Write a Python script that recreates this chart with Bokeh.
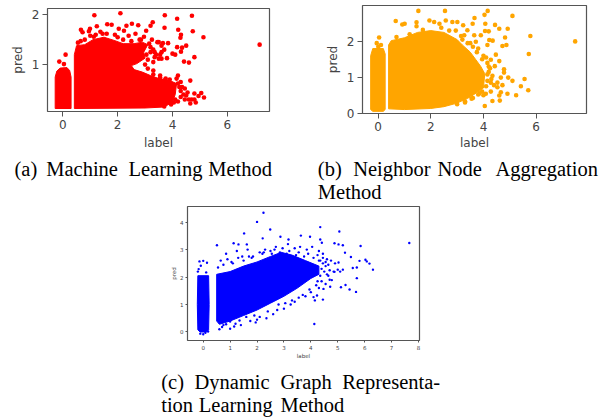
from bokeh.plotting import figure
from bokeh.models import Label, FixedTicker, Range1d, Spacer
from bokeh.layouts import column, row
from bokeh.embed import file_html
from bokeh.resources import INLINE

# ---- Panel (a): sparse points
a_x = [1.15,2.1,3.72,4.17,4.71,3.71,4.21,4.74,5.13,7.18,4.31,4.29,3.84,4.5,4.35,4.17,4.31,4.8,4.42,4.6,0.1,-0.13,0.04,
       0.66,0.72,0.95,0.99,1.24,1.62,1.78,2.52,2.32,2.75,3.28,3.2,3.04,2.04,2.23,1.37,2.96,1.13,1.0,1.45,1.9,2.4,2.65,2.85,
       3.6,3.7,3.55,3.8,3.4,3.3,4.0,4.1,3.3,3.1,3.0,3.45,3.65,3.25,3.15,
       4.2,4.65,4.3,4.45,4.8,5.05,5.15,4.95,4.8,4.65,4.85,4.7,4.5,4.6,4.4,4.3,4.15,4.25,3.9,3.75,3.55,3.3,
       0.55,0.65,0.8,1.2,1.6,2.0,2.2,2.5,2.8,3.2,3.35,3.5,3.6,3.05,3.2,3.35,3.5,3.6,
       4.2,4.35,4.3,4.2,3.95,3.7,4.05,4.1,4.45,4.55,3.1,3.3,3.55,3.7,3.85,3.95]
a_y = [1.99,2.03,1.99,1.92,1.98,1.74,1.70,1.67,1.55,1.40,1.6,1.54,1.43,1.38,1.34,1.35,1.26,1.15,1.06,1.04,1.2,1.06,1.01,
       1.7,1.65,1.67,1.72,1.77,1.81,1.8,1.82,1.78,1.79,1.85,1.78,1.68,1.72,1.68,1.66,1.56,1.56,1.58,1.62,1.6,1.58,1.62,1.5,
       1.38,1.3,1.2,1.13,1.2,1.3,1.22,1.2,1.05,1.1,1.0,1.45,1.43,1.5,1.42,
       0.78,0.68,0.65,0.52,0.42,0.43,0.34,0.37,0.3,0.22,0.24,0.3,0.38,0.3,0.4,0.47,0.72,0.55,0.7,0.72,0.74,0.8,
       1.44,1.47,1.5,1.6,1.62,1.55,1.5,1.47,1.5,1.35,1.25,1.12,1.25,1.2,1.25,1.15,1.45,1.12,
       0.62,0.55,0.35,0.26,0.2,0.16,0.24,0.3,0.3,0.44,0.92,0.88,0.78,0.68,0.66,0.6]
a_left_x = [-0.28,0.3,0.3,0.25,0.15,-0.1,-0.22,-0.28]
a_left_y = [0.12,0.12,0.75,0.88,0.94,0.93,0.87,0.75]
a_main_x = [0.42,3.0,3.7,4.0,4.1,4.15,3.9,3.5,3.2,2.9,2.6,2.5,2.7,3.0,2.95,3.1,2.9,2.6,2.2,1.9,1.5,1.1,0.8,0.5,0.42]
a_main_y = [0.12,0.13,0.15,0.25,0.4,0.62,0.68,0.72,0.78,0.85,0.9,0.98,1.02,1.13,1.25,1.4,1.45,1.42,1.42,1.48,1.55,1.5,1.4,1.38,1.2]

# ---- Panel (b)
b_x = [1.53,2.54,4.16,4.04,5.1,0.67,3.66,3.59,4.07,4.44,4.6,4.92,4.06,4.2,5.78,4.82,7.48,5.72,0.04,-0.05,0.01,0.11,
       1.46,1.46,0.92,1.01,1.95,2.13,2.33,2.57,2.82,3.01,3.23,3.39,3.65,3.9,3.27,3.71,4.22,4.35,4.15,4.72,4.87,4.47,4.28,4.6,
       4.78,4.43,4.78,4.94,5.1,5.56,5.42,5.7,5.24,4.91,4.66,4.53,4.72,4.53,4.28,4.66,4.6,4.34,4.62,4.05,4.15,4.34,4.28,4.09,
       0.7,1.2,1.7,2.4,2.7,2.95,3.15,3.5,3.8,4.0,4.15,4.25,4.1,3.95,3.8,3.6,3.3,
       3.2,3.4,3.6,3.75,3.95,4.1,4.2,4.2,4.3,4.4,4.15,3.0,3.3,3.55,3.85,4.0]
b_y = [2.85,2.85,2.85,2.74,2.71,2.57,2.65,2.49,2.49,2.46,2.35,2.35,2.29,2.28,2.15,2.11,2.0,1.65,2.11,1.95,1.85,1.9,
       2.53,2.42,2.47,2.49,2.58,2.54,2.49,2.58,2.54,2.54,2.45,2.31,2.17,2.17,2.17,1.99,2.04,2.02,1.9,1.87,1.9,1.63,1.49,1.45,
       1.22,1.31,1.13,0.99,0.9,0.95,0.75,0.64,0.5,0.54,0.99,0.85,0.78,0.72,0.6,0.58,0.49,0.34,0.35,0.2,1.08,1.04,0.85,0.54,
       2.12,2.2,2.32,2.38,2.3,2.3,2.15,1.95,1.8,1.6,1.4,1.25,0.75,0.6,0.52,0.42,0.33,
       2.05,1.95,1.85,1.7,1.5,1.55,1.3,1.15,0.95,0.78,0.9,0.25,0.3,0.4,0.55,0.5]
b_left_x = [-0.28,-0.2,0.2,0.27,0.27,0.2,-0.2,-0.28]
b_left_y = [0.1,0.05,0.05,0.1,1.65,1.8,1.8,1.6]
b_main_x = [0.4,1.0,2.0,2.5,3.0,3.5,4.0,4.05,3.9,3.7,3.5,3.2,3.0,2.5,2.0,1.5,1.0,0.5,0.4]
b_main_y = [0.12,0.1,0.13,0.18,0.28,0.45,0.7,1.1,1.3,1.5,1.7,1.9,2.05,2.25,2.3,2.25,2.1,2.02,1.9]

# ---- Panel (c)
c_x = [2.24,2.0,2.49,1.52,2.21,2.87,3.17,3.63,3.97,4.35,5.06,7.66,5.85,0.51,1.13,1.31,1.62,4.35,4.41,4.88,5.03,5.19,5.49,5.27,
       6.03,6.08,6.18,6.31,5.81,5.56,5.71,5.71,5.68,5.44,5.29,5.12,4.13,5.03,5.0,5.19,4.88,5.09,4.78,4.72,4.47,4.45,4.23,4.1,
       -0.14,0.0,-0.09,0.14,0.11,-0.17,-0.11,0.08,-0.2,0.18,0.0,
       0.6,0.7,0.85,1.0,1.2,1.4,1.75,1.95,2.1,2.35,2.6,2.75,3.0,3.25,3.4,3.55,3.8,4.0,4.15,4.3,4.55,4.7,4.85,4.9,4.6,4.45,
       0.65,0.85,1.05,1.25,1.5,1.65,1.85,2.1,2.3,2.55,2.7,2.95,3.15,3.4,3.6,3.85,4.05,4.3,
       0.75,1.0,1.15,1.35,1.6,1.9,2.0,2.4,2.8,3.05,3.3,3.7,3.95,4.2,4.4,4.65,0.9,1.3,1.7,2.2,2.5,2.85,3.2,3.55,3.9,4.25,
       4.35,4.45,4.55,4.65,4.75,4.4,4.5,4.6,4.7,4.3,4.45,4.35,4.55,4.25,0.55,0.75,1.1,1.45,1.8,2.25,2.65,3.1,3.45,3.75,4.1,
       0.7,0.95,1.25,1.55,1.85,2.15,2.45,2.75,3.05,3.35,3.65,3.95,4.15]
c_y = [4.34,4.01,3.73,3.59,3.41,3.47,3.37,3.51,3.47,3.82,3.66,3.24,3.13,3.16,3.23,3.19,3.19,3.37,3.25,3.23,3.19,3.16,2.73,2.89,
       2.63,2.57,2.49,2.27,2.59,2.33,2.35,1.96,1.46,1.55,1.71,1.63,0.29,2.53,2.27,2.27,2.19,2.2,1.89,1.65,1.57,1.18,1.33,1.27,
       2.57,2.59,2.41,2.52,2.17,2.29,-0.06,-0.03,2.2,0.02,-0.08,
       0.1,0.18,0.28,0.12,0.3,0.25,0.4,0.35,0.55,0.5,0.65,0.8,0.85,1.0,1.1,1.25,1.3,1.45,1.15,1.6,1.75,1.9,2.2,2.5,2.65,2.85,
       2.6,2.85,2.55,2.95,2.6,3.0,2.75,2.9,3.0,2.85,3.1,3.05,3.2,3.05,3.1,3.0,3.1,2.95,
       0.25,0.38,0.2,0.42,0.55,0.6,0.45,0.75,1.0,1.05,1.15,1.35,1.55,1.7,1.85,2.05,2.65,2.7,2.75,2.85,2.95,2.9,2.95,2.9,2.85,2.8,
       2.6,2.5,2.4,2.45,2.6,2.3,2.2,2.1,2.25,2.6,2.7,2.05,2.55,1.85,2.35,2.45,2.5,2.75,2.7,2.9,3.0,2.85,2.8,2.75,2.7,
       0.42,0.55,0.62,0.78,0.85,1.05,1.15,1.3,1.45,1.65,1.85,2.05,2.1]
c_left_x = [-0.2,-0.12,0.12,0.2,0.22,0.2,-0.2,-0.22]
c_left_y = [0.08,0.0,0.0,0.08,1.0,2.05,2.05,1.0]
c_main_x = [0.5,0.6,1.0,1.5,2.0,2.5,3.0,3.5,4.0,4.3,4.3,3.8,3.3,2.9,2.5,2.0,1.5,1.0,0.5]
c_main_y = [0.4,0.28,0.4,0.6,0.8,1.05,1.3,1.6,1.95,2.1,2.4,2.6,2.8,2.9,2.75,2.55,2.4,2.2,2.1]

x_ticks_ab = [0,2,4,6]
x_ticks_c = [0,1,2,3,4,5,6,7,8]
y_ticks_a = [1,2]
y_ticks_b = [0,1,2]
y_ticks_c = [0,1,2,3,4]

cap_top = [("(a)",14,175),("Machine",45.7,175),("Learning",128,175),("Method",207.7,175),
           ("(b)",317.3,175),("Neighbor",352.7,175),("Node",437,175),("Aggregation",495,175),("Method",317.3,198)]
cap_bottom = [("(c)",160.7,388),("Dynamic",194,388),("Graph",280,388),("Representa-",341.7,388),
              ("tion",160.7,411.7),("Learning",198.3,411.7),("Method",280,411.7)]
BASELINE_SHIFT = 7


def panel(w, h, left, right, top, bottom, xr, yr, xt, yt, color, size, fs, tick, sand, pts, polys, xst, yst):
    p = figure(width=w, height=h, output_backend="svg", toolbar_location=None,
               x_range=Range1d(*xr), y_range=Range1d(*yr), frame_align=False,
               min_border_left=left, min_border_right=right, min_border_top=top, min_border_bottom=bottom)
    p.grid.visible = False
    p.background_fill_color = "white"
    p.border_fill_color = "white"
    p.outline_line_color = "#555555"
    p.outline_line_width = 1.2
    p.xaxis.ticker = FixedTicker(ticks=xt)
    p.yaxis.ticker = FixedTicker(ticks=yt)
    p.xaxis.axis_label = "label"
    p.yaxis.axis_label = "pred"
    for ax in (p.xaxis[0], p.yaxis[0]):
        ax.axis_line_color = None
        ax.major_tick_line_color = "#555555"
        ax.major_tick_out = tick
        ax.major_tick_in = 0
        ax.minor_tick_line_color = None
        ax.major_label_text_font = "DejaVu Sans"
        ax.major_label_text_font_size = f"{fs}px"
        ax.major_label_text_color = "#444444"
        ax.major_label_standoff = sand
        ax.axis_label_text_font = "DejaVu Sans"
        ax.axis_label_text_font_size = f"{fs}px"
        ax.axis_label_text_font_style = "normal"
        ax.axis_label_text_color = "#444444"
    p.xaxis.axis_label_standoff = xst
    p.yaxis.axis_label_standoff = yst
    p.yaxis.major_label_orientation = "horizontal"
    for xs, ys in polys:
        p.patch(xs, ys, fill_color=color, line_color=color, line_width=1)
    p.scatter(pts[0], pts[1], size=size, fill_color=color, line_color=None)
    return p


def caption(h, bottom_page, caps):
    p = figure(width=613, height=h, output_backend="svg", toolbar_location=None, frame_align=False,
               x_range=Range1d(0, 613), y_range=Range1d(0, h),
               min_border_left=0, min_border_right=0, min_border_top=0, min_border_bottom=0)
    p.axis.visible = False
    p.grid.visible = False
    p.outline_line_color = None
    for txt, x, y in caps:
        p.add_layout(Label(x=x, y=bottom_page - y + BASELINE_SHIFT, x_units="screen", y_units="screen", text=txt,
                           text_font="Liberation Serif", text_font_size="20.5px", text_color="#000000",
                           text_baseline="alphabetic", text_align="left"))
    return p


pa = panel(300, 152, 47, 31, 8, 34, (-0.56, 7.54), (0.06, 2.125), x_ticks_ab, y_ticks_a, "#ff0000", 4.6, 12, 5, 3,
           (a_x, a_y), [(a_left_x, a_left_y), (a_main_x, a_main_y)], 4, 4)
pb = panel(313, 152, 62, 27, 5, 37, (-0.59, 7.91), (-0.01, 3.0), x_ticks_ab, y_ticks_b, "#ffa500", 4.6, 12, 5, 3,
           (b_x, b_y), [(b_left_x, b_left_y), (b_main_x, b_main_y)], 2, 4)
pc = panel(313, 156, 37, 44, 1, 20, (-0.585, 8.04), (-0.31, 4.57), x_ticks_c, y_ticks_c, "#0000ff", 2.4, 5.5, 2, 2,
           (c_x, c_y), [(c_left_x, c_left_y), (c_main_x, c_main_y)], 0, 0)
cap1 = caption(53, 205, cap_top)
cap2 = caption(57, 418, cap_bottom)

layout = column(row(pa, pb, spacing=0), cap1,
                row(Spacer(width=150, height=156), pc, spacing=0), cap2,
                spacing=0)
open("out.html", "w").write(file_html(layout, INLINE))
